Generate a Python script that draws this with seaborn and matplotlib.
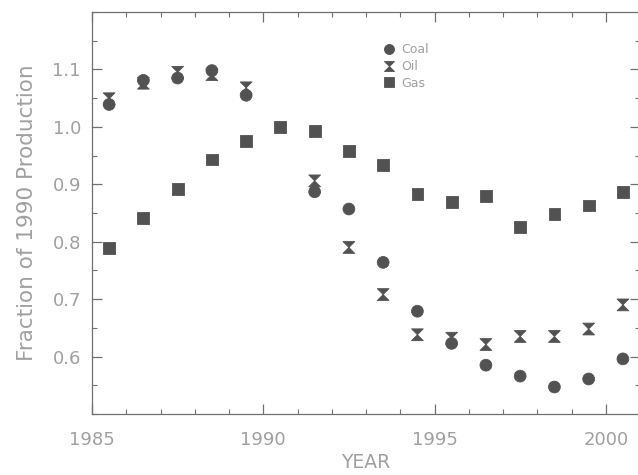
import pandas as pd
import numpy as np
import matplotlib
matplotlib.use("Agg")
import matplotlib.pyplot as plt
from matplotlib.path import Path
from matplotlib.ticker import MultipleLocator
import seaborn as sns

sns.set_theme(style="ticks")
plt.rcParams["font.family"] = ["DejaVu Sans"]

# Data (mid-year points)
years = [1985.5, 1986.5, 1987.5, 1988.5, 1989.5, 1990.5, 1991.5, 1992.5,
         1993.5, 1994.5, 1995.5, 1996.5, 1997.5, 1998.5, 1999.5, 2000.5]
coal = [1.039, 1.081, 1.085, 1.098, 1.055, np.nan, 0.887, 0.857,
        0.764, 0.679, 0.623, 0.585, 0.566, 0.547, 0.561, 0.596]
oil = [1.049, 1.076, 1.095, 1.091, 1.068, np.nan, 0.906, 0.790,
       0.708, 0.638, 0.632, 0.621, 0.635, 0.635, 0.648, 0.690]
gas = [0.789, 0.841, 0.892, 0.943, 0.976, 1.000, 0.993, 0.958,
       0.933, 0.883, 0.869, 0.880, 0.825, 0.848, 0.863, 0.886]
fuels = ["Coal", "Oil", "Gas"]

df = pd.DataFrame({"year": years, "Coal": coal, "Oil": oil, "Gas": gas})
df = df.melt(id_vars="year", value_vars=fuels, var_name="fuel", value_name="frac")
df = df.dropna()

# hourglass marker for oil
hourglass = Path([(-1, 1), (1, 1), (0, 0), (1, -1), (-1, -1), (0, 0), (-1, 1)],
                 [Path.MOVETO, Path.LINETO, Path.LINETO, Path.LINETO,
                  Path.LINETO, Path.LINETO, Path.CLOSEPOLY])
markers = {"Coal": "o", "Oil": hourglass, "Gas": "s"}

txt = "#a0a0a0"
axcol = "#707070"
mk = "#525252"

fig = plt.figure(figsize=(6.38, 4.75), dpi=100)
ax = fig.add_axes([0.1442, 0.1284, 0.859, 0.8463])

sns.scatterplot(data=df, x="year", y="frac", style="fuel", style_order=fuels,
                markers=markers, color=mk, s=72, edgecolor=mk, linewidth=0.6,
                ax=ax, legend=True)

ax.set_xlim(1985, 2001)
ax.set_ylim(0.5, 1.2)
ax.set_xticks([1985, 1990, 1995, 2000])
ax.xaxis.set_minor_locator(MultipleLocator(1))
ax.set_yticks([0.6, 0.7, 0.8, 0.9, 1.0, 1.1])
ax.set_yticklabels(["0.6", "0.7", "0.8", "0.9", "1.0", "1.1"])
ax.yaxis.set_minor_locator(MultipleLocator(0.05))

ax.tick_params(which="both", direction="in", top=True, right=True,
               color=axcol, labelcolor=txt, labelsize=13)
ax.tick_params(axis="x", which="both", pad=12)
ax.tick_params(axis="y", which="both", pad=8)
ax.tick_params(which="major", length=7, width=0.9)
ax.tick_params(which="minor", length=3.5, width=0.8)
for sp in ax.spines.values():
    sp.set_color(axcol)
    sp.set_linewidth(0.9)

ax.set_xlabel("YEAR", color=txt, fontsize=13.5, labelpad=3)
ax.set_ylabel("Fraction of 1990 Production", color=txt, fontsize=15.5, labelpad=11)

leg = ax.legend(loc="upper left", bbox_to_anchor=(0.51, 0.935), frameon=False,
                fontsize=9, handletextpad=0.0, labelspacing=0.3,
                markerscale=0.85, borderaxespad=0)
for t in leg.get_texts():
    t.set_color(txt)

fig.savefig("out.png", dpi=100)
